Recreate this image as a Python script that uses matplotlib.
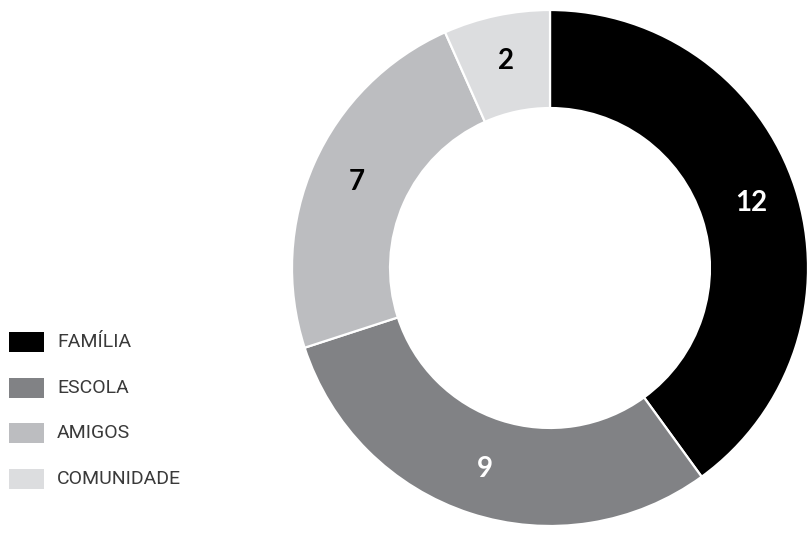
import matplotlib
matplotlib.use("Agg")
import matplotlib.pyplot as plt
from matplotlib.patches import Rectangle

CATEGORIES = ["FAMÍLIA", "ESCOLA", "AMIGOS", "COMUNIDADE"]
VALUES = [12, 9, 7, 2]
COLORS = ["#000000", "#818285", "#bcbdc0", "#dcdddf"]
LABEL_COLORS = ["white", "white", "black", "black"]

W, H = 811, 534
fig = plt.figure(figsize=(W / 100, H / 100), dpi=100)

# donut: centre (550, 268) px, outer radius 258 px
cx, cy, R = 550, 268, 258
ax = fig.add_axes([(cx - R) / W, (H - cy - R) / H, 2 * R / W, 2 * R / H])
total = sum(VALUES)
wedges, _, autotexts = ax.pie(
    VALUES,
    colors=COLORS,
    startangle=90,
    counterclock=False,
    radius=1,
    autopct=lambda p: f"{round(p * total / 100)}",
    pctdistance=0.82,
    wedgeprops=dict(width=0.38, edgecolor="white", linewidth=1.6),
    textprops=dict(fontsize=20, fontweight="bold", family="Lato"),
)
for t, c in zip(autotexts, LABEL_COLORS):
    t.set_color(c)
ax.set_xlim(-1, 1)
ax.set_ylim(-1, 1)
ax.set_aspect("equal")
ax.axis("off")

# legend
for i, (name, col) in enumerate(zip(CATEGORIES, COLORS)):
    yc = 342 + i * 45.7
    fig.patches.append(Rectangle((9 / W, (H - yc - 10) / H), 35 / W, 20 / H,
                                 transform=fig.transFigure, facecolor=col,
                                 edgecolor="none"))
    fig.text(57 / W, (H - yc) / H, name, fontsize=14, family="Roboto",
             color="#3a3a3a", va="center", ha="left")

fig.savefig("out.png", dpi=100)
